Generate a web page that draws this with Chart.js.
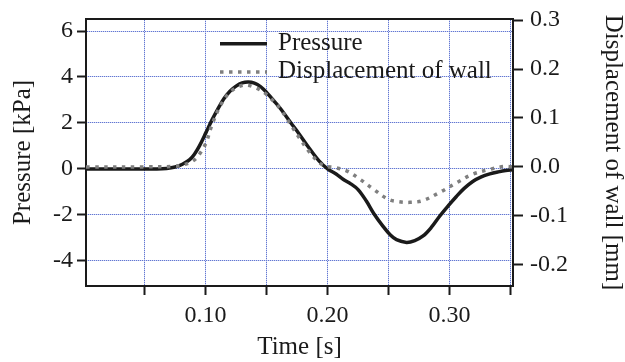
<!DOCTYPE html>
<html>
<head>
<meta charset="utf-8">
<title>Pressure and displacement of wall</title>
<script src="https://cdn.jsdelivr.net/npm/chart.js@4/dist/chart.umd.min.js"></script>
<style>
  html, body { margin: 0; padding: 0; background: #fff; }
  canvas { display: block; }
</style>
</head>
<body>
<canvas id="chart" width="625" height="362"></canvas>
<script>
// Pressure [kPa] vs time [s]
const pressureTime = [0.002, 0.03, 0.06, 0.068, 0.075, 0.081, 0.087, 0.091, 0.095, 0.1005, 0.105, 0.11, 0.115, 0.12, 0.125, 0.13, 0.135, 0.14, 0.145, 0.15, 0.155, 0.161, 0.17, 0.177, 0.185, 0.193, 0.2, 0.207, 0.2127, 0.219, 0.225, 0.2318, 0.238, 0.2455, 0.2515, 0.2565, 0.2647, 0.2715, 0.2783, 0.285, 0.292, 0.299, 0.3056, 0.312, 0.319, 0.326, 0.333, 0.34, 0.346, 0.352];
const pressureVals = [0, 0, 0, 0.02, 0.08, 0.2, 0.4, 0.65, 1.0, 1.6, 2.1, 2.6, 3.05, 3.38, 3.6, 3.74, 3.78, 3.73, 3.58, 3.33, 3.02, 2.65, 2.0, 1.5, 0.9, 0.35, 0.0, -0.22, -0.45, -0.65, -0.9, -1.4, -1.95, -2.5, -2.88, -3.08, -3.2, -3.12, -2.92, -2.55, -2.05, -1.6, -1.2, -0.85, -0.55, -0.35, -0.22, -0.13, -0.07, -0.04];

// Displacement of wall [mm] vs time [s]
const dispTime = [0.002, 0.05, 0.075, 0.0814, 0.0896, 0.095, 0.1005, 0.1047, 0.1115, 0.1197, 0.1306, 0.14, 0.15, 0.161, 0.17, 0.177, 0.185, 0.193, 0.199, 0.205, 0.2155, 0.2264, 0.2373, 0.2496, 0.258, 0.2675, 0.278, 0.292, 0.306, 0.319, 0.333, 0.344, 0.352];
const dispVals = [0, 0, 0.001, 0.004, 0.012, 0.026, 0.05, 0.082, 0.122, 0.152, 0.167, 0.163, 0.148, 0.119, 0.0854, 0.059, 0.0305, 0.009, 0.001, -0.001, -0.008, -0.025, -0.045, -0.066, -0.071, -0.0725, -0.069, -0.052, -0.032, -0.015, -0.005, 0.0006, 0.0];

// Axis ticks
const xTickValues = [0.05, 0.10, 0.15, 0.20, 0.25, 0.30, 0.35];
const xTickLabels = ['', '0.10', '', '0.20', '', '0.30', ''];
const pressureTicks = [-4, -2, 0, 2, 4, 6];
const dispTicks = [-0.2, -0.1, 0.0, 0.1, 0.2, 0.3];
const dispTickLabels = ['-0.2', '-0.1', '0.0', '0.1', '0.2', '0.3'];

const serif = 'Liberation Serif';
const ink = '#1a1a1a';

// dotted blue grid: 2x2 checker pattern used as the grid stroke
function dottedBlue() {
  const c = document.createElement('canvas');
  c.width = 2; c.height = 2;
  const g = c.getContext('2d');
  g.fillStyle = '#d0d7f3';
  g.fillRect(0, 0, 2, 2);
  g.fillStyle = '#6377d2';
  g.fillRect(0, 0, 1, 1);
  g.fillRect(1, 1, 1, 1);
  return g.createPattern(c, 'repeat');
}
const gridBlue = dottedBlue();

// grid style shared by the x and left y axes
const gridOpts = {
  color: gridBlue,
  lineWidth: 1,
  tickLength: 9,
  tickColor: ink,
  tickWidth: 2
};

// draws the top edge of the frame and the legend inside the plot
const framePlugin = {
  id: 'frame',
  afterDatasetsDraw(chart) {
    const { ctx, chartArea } = chart;
    ctx.save();
    ctx.strokeStyle = ink;
    ctx.lineWidth = 2;
    ctx.beginPath();
    ctx.moveTo(chartArea.left - 1, chartArea.top);
    ctx.lineTo(chartArea.right + 1, chartArea.top);
    ctx.stroke();

    // legend
    const x0 = chartArea.left + 134;
    const rows = [chartArea.top + 24.7, chartArea.top + 53];
    ctx.font = '25px "' + serif + '"';
    ctx.textBaseline = 'middle';
    ctx.textAlign = 'left';
    chart.data.datasets.forEach((ds, i) => {
      const y = rows[i];
      ctx.strokeStyle = ds.borderColor;
      ctx.lineWidth = ds.borderWidth;
      ctx.lineCap = 'butt';
      ctx.setLineDash(ds.borderDash || []);
      ctx.beginPath();
      ctx.moveTo(x0, y);
      ctx.lineTo(x0 + 47, y);
      ctx.stroke();
      ctx.setLineDash([]);
      ctx.fillStyle = ink;
      ctx.fillText(ds.label, x0 + 58, y - 0.1);
    });
    ctx.restore();
  }
};

new Chart(document.getElementById('chart'), {
  type: 'line',
  data: {
    datasets: [
      {
        label: 'Pressure',
        data: pressureTime.map((t, i) => ({ x: t, y: pressureVals[i] })),
        yAxisID: 'y',
        borderColor: '#1a1a1a',
        borderWidth: 3.5,
        pointRadius: 0,
        tension: 0.35,
        order: 1
      },
      {
        label: 'Displacement of wall',
        data: dispTime.map((t, i) => ({ x: t, y: dispVals[i] })),
        yAxisID: 'y2',
        borderColor: '#7f7f7f',
        borderWidth: 3.5,
        borderDash: [3.5, 5.5],
        borderCapStyle: 'butt',
        pointRadius: 0,
        tension: 0.35,
        order: 0
      }
    ]
  },
  options: {
    responsive: false,
    animation: false,
    devicePixelRatio: 1,
    layout: { padding: { top: 17, left: 0, right: 0, bottom: 0 } },
    plugins: {
      legend: { display: false },
      tooltip: { enabled: false }
    },
    scales: {
      x: {
        type: 'linear',
        position: 'bottom',
        min: 0.002,
        max: 0.352,
        afterBuildTicks: axis => { axis.ticks = xTickValues.map(v => ({ value: v })); },
        afterFit: axis => { axis.height = 76; },
        ticks: {
          autoSkip: false,
          maxRotation: 0,
          padding: 8.5,
          color: ink,
          font: { family: serif, size: 24, lineHeight: 1 },
          callback: (v, i) => xTickLabels[i]
        },
        grid: gridOpts,
        border: { display: true, color: ink, width: 2 },
        title: {
          display: true,
          text: 'Time [s]',
          color: ink,
          font: { family: serif, size: 25, lineHeight: 1 },
          padding: { top: 0, bottom: 2 }
        }
      },
      y: {
        type: 'linear',
        position: 'left',
        min: -5.097,
        max: 6.523,
        afterBuildTicks: axis => { axis.ticks = pressureTicks.map(v => ({ value: v })); },
        afterFit: axis => { axis.width = 86; },
        ticks: {
          autoSkip: false,
          padding: 4,
          color: ink,
          font: { family: serif, size: 24, lineHeight: 1 },
          callback: v => String(v)
        },
        grid: gridOpts,
        border: { display: true, color: ink, width: 2 },
        title: {
          display: true,
          text: 'Pressure [kPa]',
          color: ink,
          font: { family: serif, size: 25, lineHeight: 1 },
          padding: { top: 11, bottom: 0 }
        }
      },
      y2: {
        type: 'linear',
        position: 'right',
        min: -0.2434,
        max: 0.3022,
        afterBuildTicks: axis => { axis.ticks = dispTicks.map(v => ({ value: v })); },
        afterFit: axis => { axis.width = 112; },
        ticks: {
          autoSkip: false,
          padding: 7,
          color: ink,
          font: { family: serif, size: 24, lineHeight: 1 },
          callback: (v, i) => dispTickLabels[i]
        },
        grid: { drawOnChartArea: false, tickLength: 10, tickColor: ink, tickWidth: 2 },
        border: { display: true, color: ink, width: 2 },
        title: {
          display: true,
          text: 'Displacement of wall [mm]',
          color: ink,
          font: { family: serif, size: 25, lineHeight: 1 },
          padding: { top: 0, bottom: 0 }
        }
      }
    }
  },
  plugins: [framePlugin]
});
</script>
</body>
</html>
